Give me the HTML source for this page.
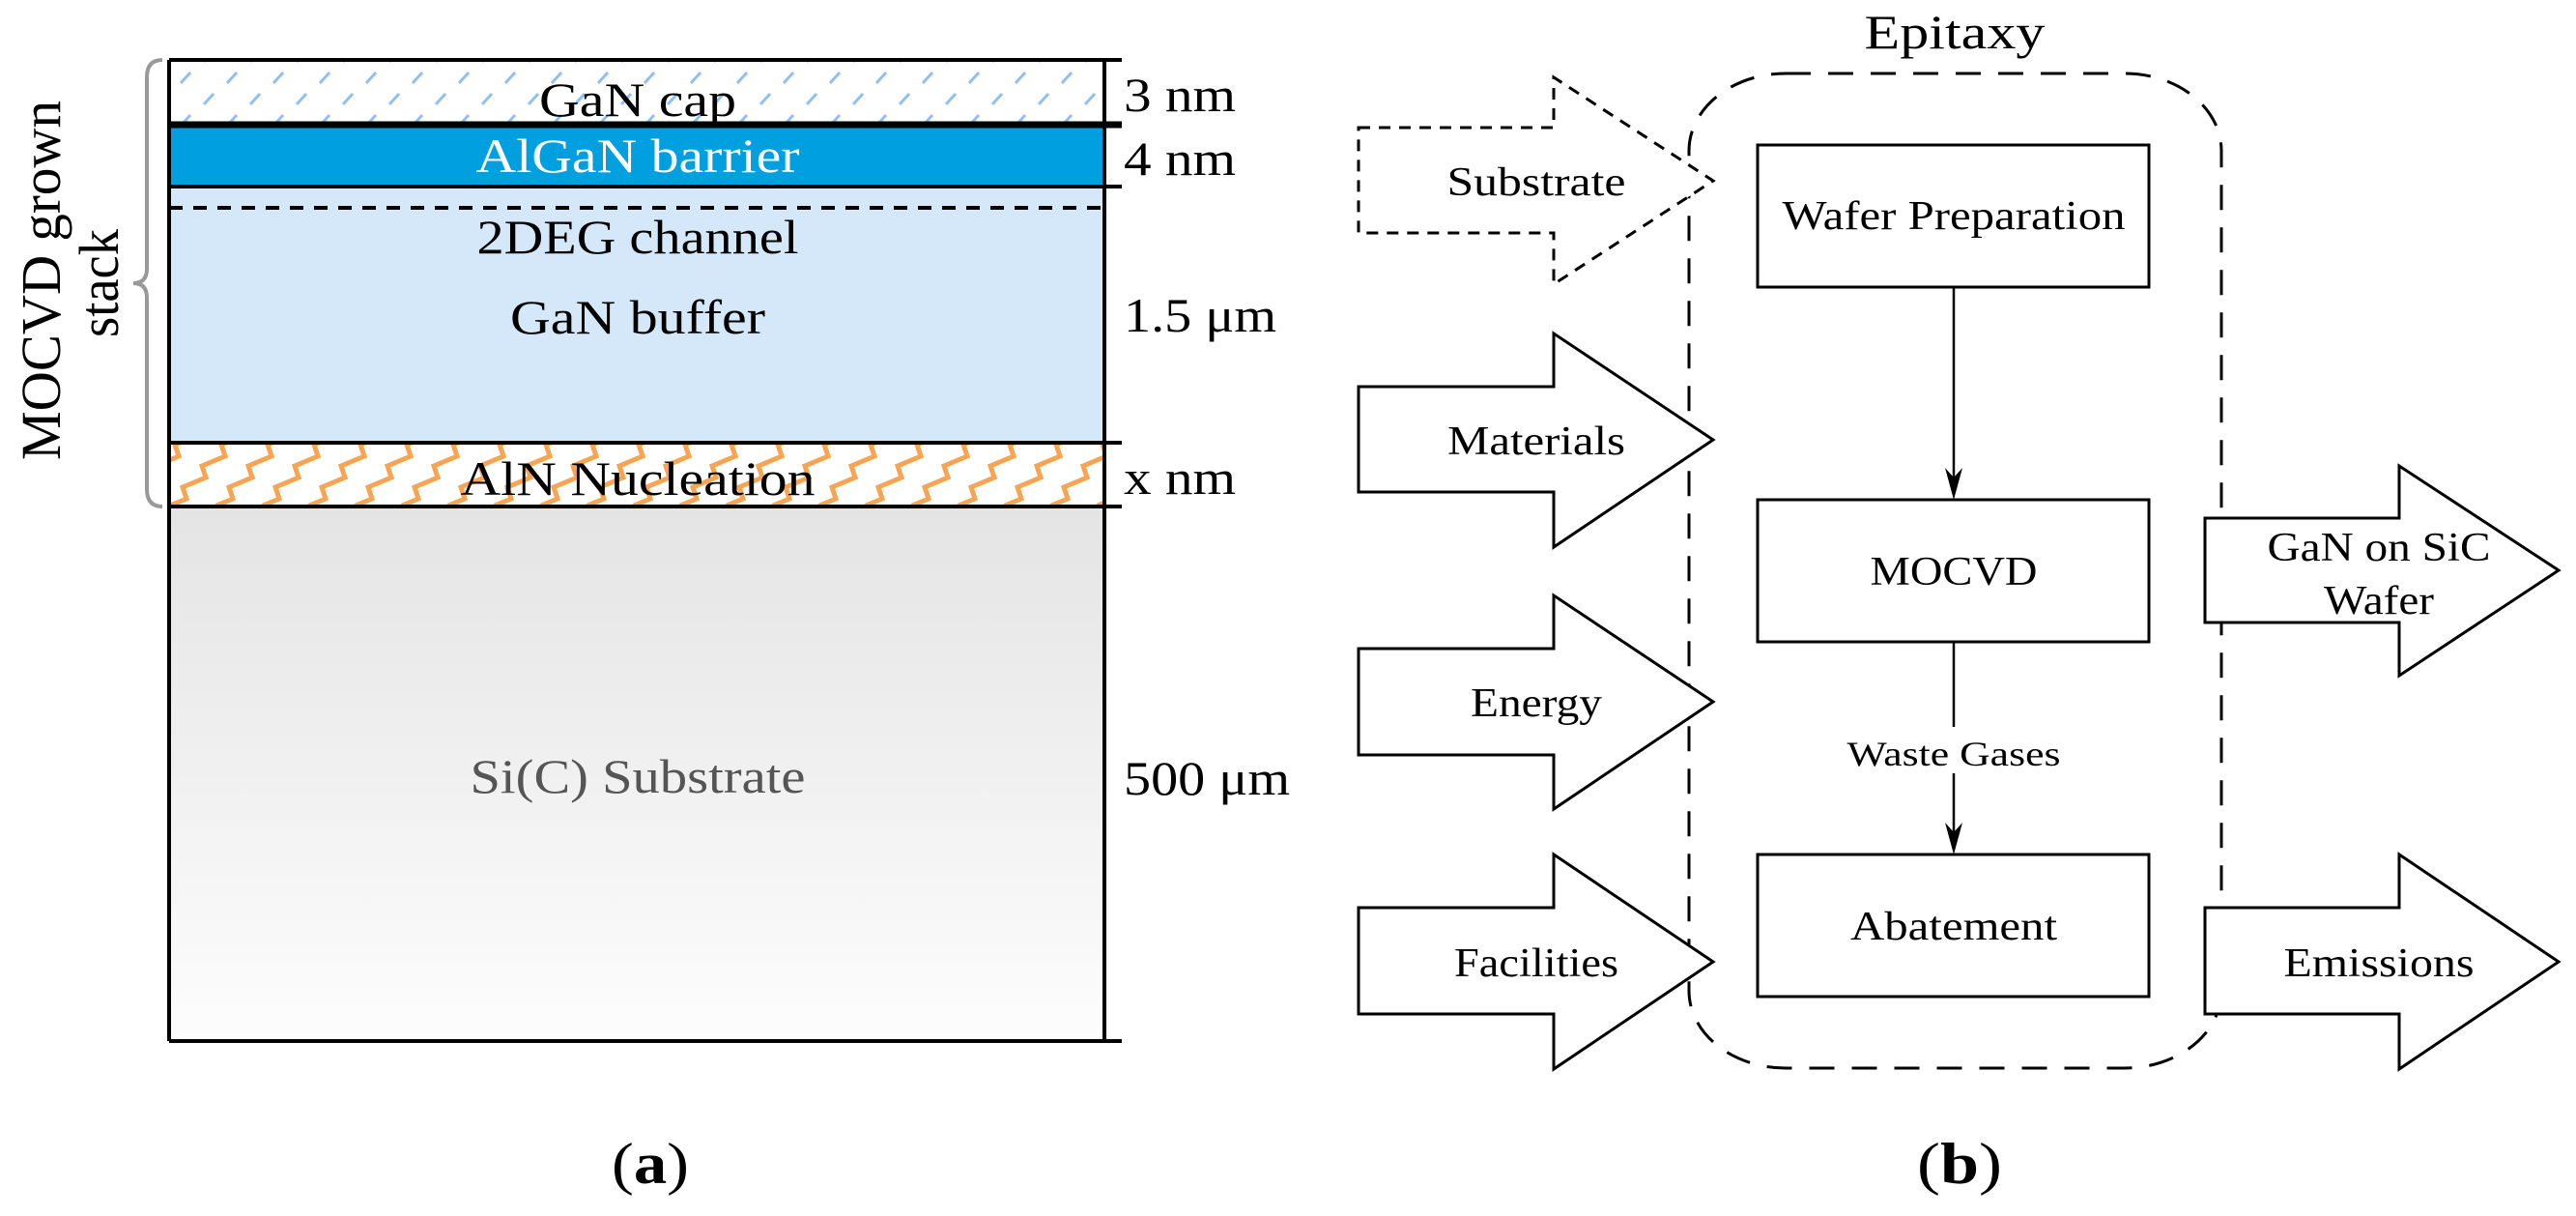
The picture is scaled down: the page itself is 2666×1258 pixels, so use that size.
<!DOCTYPE html>
<html><head><meta charset="utf-8"><style>html,body{margin:0;padding:0;background:#fff}svg{display:block}</style></head>
<body>
<svg width="2666" height="1258" viewBox="0 0 2666 1258" xmlns="http://www.w3.org/2000/svg" font-family="'Liberation Serif', serif">
<defs>
<pattern id="hatch" width="48" height="44" patternUnits="userSpaceOnUse" x="175" y="64">
<line x1="12" y1="22" x2="22" y2="11" stroke="#8fbff5" stroke-width="3"/>
<line x1="36" y1="44" x2="46" y2="33" stroke="#8fbff5" stroke-width="3"/>
<line x1="36" y1="0" x2="46" y2="-11" stroke="#8fbff5" stroke-width="3"/>
</pattern>
<pattern id="zig" width="48" height="64" patternUnits="userSpaceOnUse" x="175" y="460">
<path d="M-6 66 L18 56 L14 44 L38 34 L34 22 L58 12 L54 0 L70 -6 M-54 66 L-30 56 L-34 44 L-10 34 L-14 22 L10 12 L6 0 L22 -6" stroke="#f7a552" stroke-width="5" fill="none"/>
</pattern>
<linearGradient id="sub" x1="0" y1="0" x2="0" y2="1"><stop offset="0" stop-color="#e4e4e4"/><stop offset="1" stop-color="#fdfdfd"/></linearGradient>
</defs>

<!-- Panel a -->
<rect x="175" y="64" width="968" height="64" fill="url(#hatch)"/>
<rect x="175" y="132" width="968" height="61" fill="#00a0e0"/>
<rect x="175" y="193" width="968" height="265" fill="#d4e8fa"/>
<rect x="175" y="460" width="968" height="64" fill="#fff"/>
<rect x="175" y="460" width="968" height="64" fill="url(#zig)"/>
<rect x="175" y="524" width="968" height="553" fill="url(#sub)"/>
<g stroke="#000" stroke-width="4">
<line x1="175" y1="62" x2="1161" y2="62"/>
<line x1="175" y1="129" x2="1161" y2="129" stroke-width="7"/>
<line x1="175" y1="193" x2="1161" y2="193"/>
<line x1="175" y1="458" x2="1161" y2="458"/>
<line x1="175" y1="524" x2="1161" y2="524"/>
<line x1="175" y1="1077" x2="1161" y2="1077"/>
<line x1="175" y1="62" x2="175" y2="1077"/>
<line x1="1143" y1="62" x2="1143" y2="1077"/>
<line x1="175" y1="215" x2="1143" y2="215" stroke-dasharray="14 11"/>
</g>
<path d="M168 62 Q152 62 152 80 L152 278 Q152 293 138 293 Q152 293 152 308 L152 506 Q152 524 168 524" stroke="#999" stroke-width="4" fill="none"/>
<text transform="translate(62,290) rotate(-90)" text-anchor="middle" font-size="58" textLength="372" lengthAdjust="spacingAndGlyphs">MOCVD grown</text>
<text transform="translate(122,293) rotate(-90)" text-anchor="middle" font-size="58" textLength="112" lengthAdjust="spacingAndGlyphs">stack</text>
<g font-size="50" text-anchor="middle">
<text x="660" y="120" textLength="204" lengthAdjust="spacingAndGlyphs">GaN cap</text>
<text x="660" y="178" fill="#fff" textLength="335" lengthAdjust="spacingAndGlyphs">AlGaN barrier</text>
<text x="660" y="262" textLength="333" lengthAdjust="spacingAndGlyphs">2DEG channel</text>
<text x="660" y="345" textLength="264" lengthAdjust="spacingAndGlyphs">GaN buffer</text>
<text x="660" y="512" textLength="367" lengthAdjust="spacingAndGlyphs">AlN Nucleation</text>
<text x="660" y="820" fill="#555" textLength="347" lengthAdjust="spacingAndGlyphs">Si(C) Substrate</text>
</g>
<g font-size="50">
<text x="1163" y="115" textLength="116" lengthAdjust="spacingAndGlyphs">3 nm</text>
<text x="1163" y="181" textLength="116" lengthAdjust="spacingAndGlyphs">4 nm</text>
<text x="1163" y="343" textLength="158" lengthAdjust="spacingAndGlyphs">1.5 μm</text>
<text x="1163" y="511" textLength="116" lengthAdjust="spacingAndGlyphs">x nm</text>
<text x="1163" y="822" textLength="172" lengthAdjust="spacingAndGlyphs">500 μm</text>
</g>

<!-- Panel b -->
<rect x="1748" y="76" width="551" height="1029" rx="100" ry="80" fill="none" stroke="#000" stroke-width="3" stroke-dasharray="26 18"/>
<text x="2023" y="50" font-size="50" text-anchor="middle" textLength="187" lengthAdjust="spacingAndGlyphs">Epitaxy</text>

<g fill="#fff" stroke="#000" stroke-width="3">
<path d="M1406 132 L1608 132 L1608 80 L1773 187 L1608 294 L1608 241 L1406 241 Z" stroke-dasharray="12 9"/>
<path d="M1406 400 L1608 400 L1608 345 L1773 455 L1608 566 L1608 509 L1406 509 Z"/>
<path d="M1406 671 L1608 671 L1608 616 L1773 726 L1608 837 L1608 781 L1406 781 Z"/>
<path d="M1406 939 L1608 939 L1608 884 L1773 995 L1608 1106 L1608 1049 L1406 1049 Z"/>
<path d="M2282 536 L2483 536 L2483 482 L2648 590 L2483 699 L2483 644 L2282 644 Z"/>
<path d="M2282 939 L2483 939 L2483 884 L2648 995 L2483 1106 L2483 1049 L2282 1049 Z"/>
<rect x="1819" y="150" width="405" height="147"/>
<rect x="1819" y="517" width="405" height="147"/>
<rect x="1819" y="884" width="405" height="147"/>
</g>
<g stroke="#000" stroke-width="2.5">
<line x1="2022" y1="297" x2="2022" y2="500"/>
<line x1="2022" y1="664" x2="2022" y2="752"/>
<line x1="2022" y1="800" x2="2022" y2="868"/>
</g>
<path d="M2022 517 L2013 484 L2022 494 L2031 484 Z" fill="#000"/>
<path d="M2022 884 L2013 851 L2022 861 L2031 851 Z" fill="#000"/>
<g font-size="42" text-anchor="middle">
<text x="1590" y="202" textLength="185" lengthAdjust="spacingAndGlyphs">Substrate</text>
<text x="1590" y="470" textLength="184" lengthAdjust="spacingAndGlyphs">Materials</text>
<text x="1590" y="741" textLength="136" lengthAdjust="spacingAndGlyphs">Energy</text>
<text x="1590" y="1010" textLength="170" lengthAdjust="spacingAndGlyphs">Facilities</text>
<text x="2022" y="237" textLength="355" lengthAdjust="spacingAndGlyphs">Wafer Preparation</text>
<text x="2022" y="605" textLength="173" lengthAdjust="spacingAndGlyphs">MOCVD</text>
<text x="2022" y="972" textLength="214" lengthAdjust="spacingAndGlyphs">Abatement</text>
<text x="2462" y="580" textLength="231" lengthAdjust="spacingAndGlyphs">GaN on SiC</text>
<text x="2462" y="635" textLength="114" lengthAdjust="spacingAndGlyphs">Wafer</text>
<text x="2462" y="1010" textLength="197" lengthAdjust="spacingAndGlyphs">Emissions</text>
</g>
<text x="2022" y="792" font-size="36" text-anchor="middle" textLength="221" lengthAdjust="spacingAndGlyphs">Waste Gases</text>

<text x="673" y="1224" font-size="60" text-anchor="middle" textLength="80" lengthAdjust="spacingAndGlyphs">(<tspan font-weight="bold">a</tspan>)</text>
<text x="2028" y="1224" font-size="60" text-anchor="middle" textLength="88" lengthAdjust="spacingAndGlyphs">(<tspan font-weight="bold">b</tspan>)</text>
</svg>
</body></html>
